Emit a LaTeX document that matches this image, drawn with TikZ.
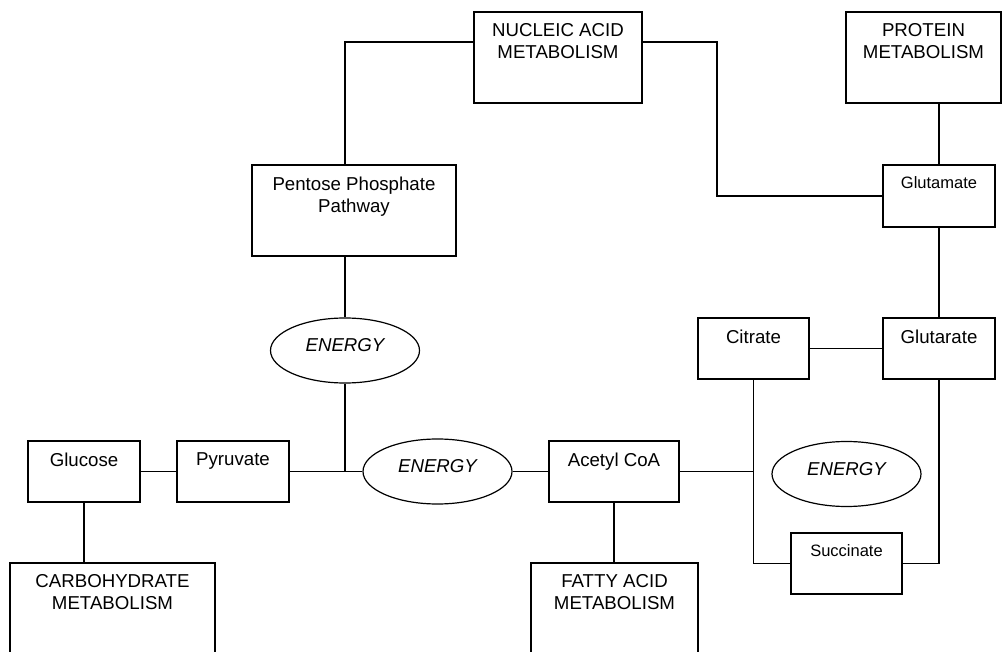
\documentclass[tikz,border=0pt]{standalone}
\usepackage{fontspec}
\setmainfont{Liberation Sans}
\usetikzlibrary{shapes.geometric}
\newcommand{\bigtxt}{\fontsize{18.67}{22}\selectfont}
\newcommand{\smalltxt}{\fontsize{16.5}{19}\selectfont}
\tikzset{
  box/.style={draw, rectangle, line width=1.2pt, inner sep=0pt},
  boxtext/.style={anchor=north, inner sep=0pt, yshift=-12pt, align=center, font=\bigtxt},
  smalltext/.style={boxtext, font=\smalltxt},
  energy/.style={draw, ellipse, line width=1.2pt, inner sep=0pt, minimum width=149pt,
    minimum height=65pt, font=\bigtxt\itshape, text depth=11pt},
  link/.style={line width=1.2pt}
}

\begin{document}
\begin{tikzpicture}[x=1pt, y=-1pt]
  \useasboundingbox (0,0) rectangle (1002,652);

  % big boxes
  \node[box, minimum width=168pt, minimum height=91pt,
    label={[boxtext]north:NUCLEIC ACID\\METABOLISM}] (nucleic) at (558,57.5) {};
  \node[box, minimum width=155pt, minimum height=91pt,
    label={[boxtext]north:PROTEIN\\METABOLISM}] (protein) at (923.5,57.5) {};
  \node[box, minimum width=204pt, minimum height=91pt,
    label={[boxtext]north:Pentose Phosphate\\Pathway}] (pentose) at (354,210.5) {};
  \node[box, minimum width=205pt, minimum height=91pt,
    label={[boxtext]north:CARBOHYDRATE\\METABOLISM}] (carbo) at (112.5,608.5) {};
  \node[box, minimum width=167pt, minimum height=91pt,
    label={[boxtext]north:FATTY ACID\\METABOLISM}] (fatty) at (614.5,608.5) {};

  % small boxes
  \node[box, minimum width=112pt, minimum height=62pt,
    label={[smalltext]north:Glutamate}] (glutamate) at (939,196) {};
  \node[box, minimum width=111pt, minimum height=61pt,
    label={[boxtext]north:Citrate}] (citrate) at (753.5,348.5) {};
  \node[box, minimum width=112pt, minimum height=61pt,
    label={[boxtext]north:Glutarate}] (glutarate) at (939,348.5) {};
  \node[box, minimum width=112pt, minimum height=61pt,
    label={[boxtext]north:Glucose}] (glucose) at (84,471.5) {};
  \node[box, minimum width=112pt, minimum height=61pt,
    label={[boxtext]north:Pyruvate}] (pyruvate) at (233,471.5) {};
  \node[box, minimum width=130pt, minimum height=61pt,
    label={[boxtext]north:Acetyl CoA}] (acetyl) at (614,471.5) {};
  \node[box, minimum width=111pt, minimum height=61pt,
    label={[smalltext]north:Succinate}] (succinate) at (846.5,563.5) {};

  % energy
  \node[energy] (energyA) at (345,350.5) {ENERGY};
  \node[energy] (energyB) at (437.5,471.5) {ENERGY};
  \node[energy] (energyC) at (846.5,474) {ENERGY};

  \coordinate (bendN) at (717,100);

  % links
  \draw[link] ([yshift=15.5pt]nucleic.west) -| (energyA.north |- pentose.north);
  \draw[link] ([yshift=15.5pt]nucleic.east) -| (bendN) |- (glutamate.west);
  \draw[link] (glutamate.north |- protein.south) -- (glutamate.north);
  \draw[link] (glutamate.south) -- (glutarate.north);
  \draw[link] (citrate.east) -- (glutarate.west);
  \draw[link] (citrate.south) |- (succinate.west);
  \draw[link] (succinate.east) -| (glutarate.south);
  \draw[link] (energyA.north |- pentose.south) -- (energyA.north);
  \draw[link] (energyA.south) -- (energyA.south |- pyruvate.east);
  \draw[link] (glucose.east) -- (pyruvate.west);
  \draw[link] (pyruvate.east) -- (energyB.west);
  \draw[link] (energyB.east) -- (acetyl.west);
  \draw[link] (acetyl.east) -- (acetyl.east -| citrate.south);
  \draw[link] (acetyl.south) -- (acetyl.south |- fatty.north);
  \draw[link] (glucose.south) -- (glucose.south |- carbo.north);
\end{tikzpicture}
\end{document}
